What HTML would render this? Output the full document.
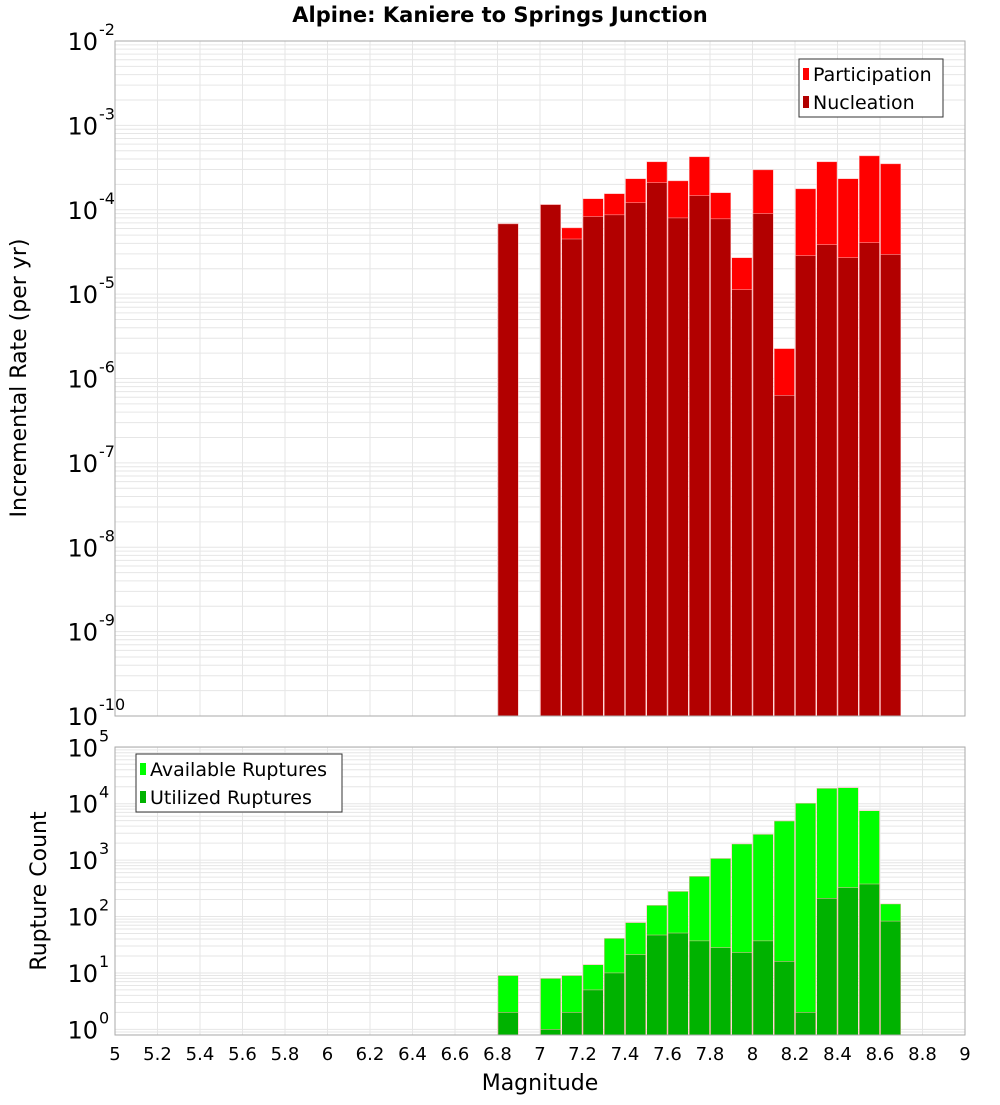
<!DOCTYPE html>
<html><head><meta charset="utf-8"><style>
html,body{margin:0;padding:0;background:#fff;}
svg text{font-family:"DejaVu Sans","Liberation Sans",sans-serif;}
</style></head><body>
<svg id="chart" width="1000" height="1100" xmlns="http://www.w3.org/2000/svg">
<rect width="1000" height="1100" fill="#fff"/>
<text x="500" y="22" text-anchor="middle" font-size="21" font-weight="bold" fill="#000">Alpine: Kaniere to Springs Junction</text>
<g id="top"></g>
<g id="bottom"></g>
<text transform="translate(26,378) rotate(-90)" text-anchor="middle" font-size="22" fill="#000">Incremental Rate (per yr)</text>
<text transform="translate(46,891) rotate(-90)" text-anchor="middle" font-size="22" fill="#000">Rupture Count</text>
<text x="540" y="1090" text-anchor="middle" font-size="22" fill="#000">Magnitude</text>
</svg>
<script>
const mags = [6.8,7.0,7.1,7.2,7.3,7.4,7.5,7.6,7.7,7.8,7.9,8.0,8.1,8.2,8.3,8.4,8.5,8.6];
const participation = [6.8e-5,1.15e-4,6.1e-5,1.35e-4,1.55e-4,2.33e-4,3.7e-4,2.2e-4,4.24e-4,1.59e-4,2.7e-5,2.97e-4,2.26e-6,1.77e-4,3.7e-4,2.33e-4,4.35e-4,3.5e-4];
const nucleation = [6.8e-5,1.15e-4,4.5e-5,8.3e-5,8.7e-5,1.21e-4,2.09e-4,8.0e-5,1.47e-4,7.8e-5,1.13e-5,9.0e-5,6.3e-7,2.86e-5,3.85e-5,2.7e-5,4.07e-5,2.95e-5];
const available = [9,8,9,14,41,78,158,279,516,1070,1930,2860,4930,10200,18700,19200,7500,167];
const utilized = [2,1,2,5,10,21,47,51,37,28,23,37,16,2,210,325,377,83];
const xTicks = ["5","5.2","5.4","5.6","5.8","6","6.2","6.4","6.6","6.8","7","7.2","7.4","7.6","7.8","8","8.2","8.4","8.6","8.8","9"];
const topExps = [-2,-3,-4,-5,-6,-7,-8,-9,-10];
const botExps = [5,4,3,2,1,0];

const NS="http://www.w3.org/2000/svg";
const X0=115,X1=965;
function xs(m){return X0+(m-5)/4*(X1-X0);}
function mk(parent,tag,attrs){const e=document.createElementNS(NS,tag);for(const k in attrs)e.setAttribute(k,attrs[k]);parent.appendChild(e);return e;}

function panel(g,top,bot,lmin,lmax,name){
  const ys=v=>bot-(Math.log10(v)-lmin)/(lmax-lmin)*(bot-top);
  mk(g,'rect',{x:X0,y:top,width:X1-X0,height:bot-top,fill:'#fff'});
  // grid
  for(let e=Math.floor(lmin);e<=Math.ceil(lmax);e++){
    for(let k=1;k<10;k++){
      const y=ys(k*Math.pow(10,e));
      if(y<top-0.1||y>bot+0.1)continue;
      const l=mk(g,'line',{x1:X0,x2:X1,y1:y,y2:y,stroke:'#e6e6e6','stroke-width':1});
      
      
    }
  }
  for(let i=1;i<xTicks.length-1;i++){
    const x=xs(parseFloat(xTicks[i]));
    const l=mk(g,'line',{x1:x,x2:x,y1:top,y2:bot,stroke:'#e6e6e6','stroke-width':1});
    
    
  }
  return ys;
}
function bars(g,ys,bot,vals,color,name){
  mags.forEach((m,i)=>{
    const v=vals[i]; if(!(v>0))return;
    const x0=xs(m)+0.5,x1=xs(m+0.1)-0.5,y=ys(v);
    const r=mk(g,'rect',{x:x0,y:y,width:x1-x0,height:bot-y,fill:color,stroke:'#ffb3b3','stroke-width':0.5});
    
    
  });
}
function ylabels(g,ys,exps,name){
  exps.forEach(e=>{
    const y=ys(Math.pow(10,e));
    const t=mk(g,'text',{x:98,y:y+9,'text-anchor':'end','font-size':24,fill:'#000'});
    t.textContent='10';
    
    
    const s=mk(g,'text',{x:99,y:y-6,'font-size':16,fill:'#000'});
    s.textContent=String(e);
    
    
  });
}
function legend(g,x,y,w,items,name){
  const b=mk(g,'rect',{x:x,y:y,width:w,height:58,fill:'#fff',stroke:'#333','stroke-width':1});
  
  
  items.forEach((it,i)=>{
    const cy=y+15+i*28;
    const s=mk(g,'rect',{x:x+4,y:cy-6,width:6,height:12,fill:it[1]});
    
    
    const t=mk(g,'text',{x:x+14,y:cy+7,'font-size':19,fill:'#000'});
    t.textContent=it[0];
    
    
  });
}
// top
const gt=document.getElementById('top');
const T0=41,T1=716;
const ysT=panel(gt,T0,T1,-10,-2,'top');
bars(gt,ysT,T1,participation,'#ff0000','participation');
bars(gt,ysT,T1,nucleation,'#b20000','nucleation');
mk(gt,'rect',{x:X0,y:T0,width:X1-X0,height:T1-T0,fill:'none',stroke:'#aaa','stroke-width':1});
ylabels(gt,ysT,topExps,'top');
legend(gt,799,59,144,[['Participation','#ff0000'],['Nucleation','#b20000']],'top-legend');
// bottom
const gb=document.getElementById('bottom');
const B0=747,B1=1035;
const ysB=panel(gb,B0,B1,-0.1,5.005,'bottom');
bars(gb,ysB,B1,available,'#00ff00','available');
bars(gb,ysB,B1,utilized,'#00b200','utilized');
mk(gb,'rect',{x:X0,y:B0,width:X1-X0,height:B1-B0,fill:'none',stroke:'#aaa','stroke-width':1});
ylabels(gb,ysB,botExps,'bottom');
legend(gb,136,754,206,[['Available Ruptures','#00ff00'],['Utilized Ruptures','#00b200']],'bottom-legend');
xTicks.forEach(tk=>{
  const t=mk(gb,'text',{x:xs(parseFloat(tk)),y:1060,'text-anchor':'middle','font-size':18,fill:'#000'});
  t.textContent=tk;
  
  
});
</script>
</body></html>
